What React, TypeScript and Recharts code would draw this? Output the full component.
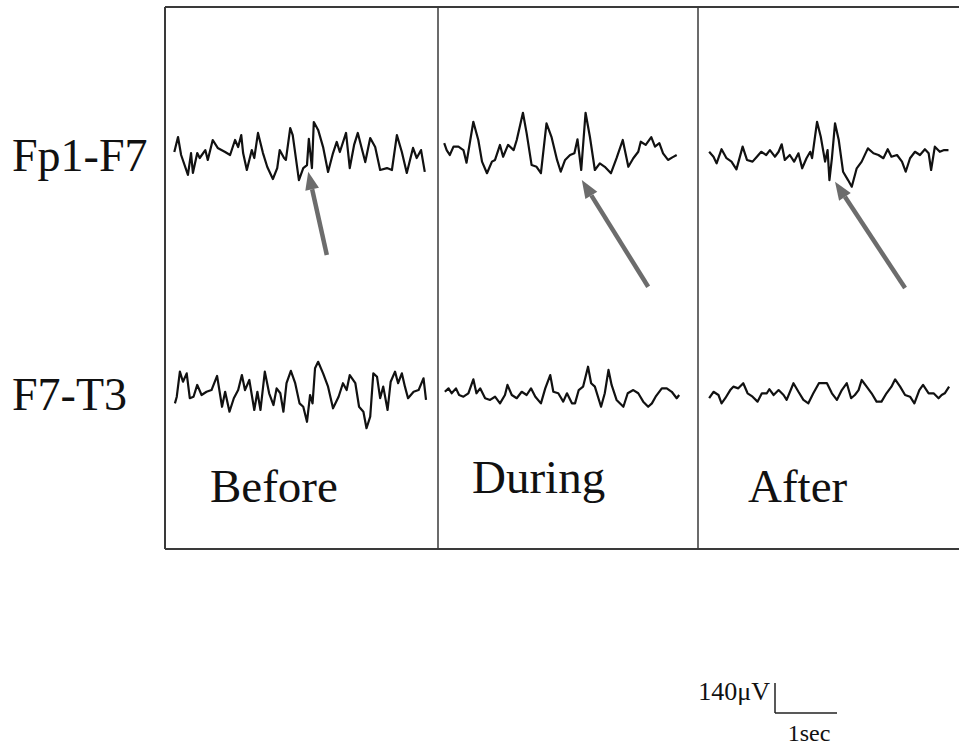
import React from "react";
import { ComposedChart, Line, XAxis, YAxis, ReferenceLine } from "recharts";

// --- EEG traces ---
// each point: [time within panel (s), amplitude (µV)]

const fp1Before: [number, number][] = [
  [0.15, 0], [0.21, 70], [0.26, -14], [0.37, -107], [0.42, -5], [0.45, -98], [0.52, -5], [0.56, -28],
  [0.65, 9], [0.69, -37], [0.77, 56], [0.85, 19], [0.97, 0], [1.05, -14], [1.13, 56], [1.18, 23],
  [1.23, 79], [1.26, -5], [1.32, -84], [1.40, 9], [1.44, -28], [1.50, 89], [1.58, -5], [1.65, -70],
  [1.74, -126], [1.81, -75], [1.85, 9], [1.92, -28], [1.95, -37], [2.02, 112], [2.06, 79], [2.16, -131],
  [2.23, -75], [2.29, -61], [2.32, 61], [2.37, -75], [2.40, 140], [2.47, 103], [2.55, 23], [2.63, -93],
  [2.71, -5], [2.77, 47], [2.82, 0], [2.92, 89], [2.98, -75], [3.05, 33], [3.11, 89], [3.18, 9],
  [3.23, -47], [3.31, 65], [3.39, 23], [3.47, -84], [3.58, -75], [3.66, -84], [3.74, 79], [3.82, 0],
  [3.90, -98], [4.00, 19], [4.06, -28], [4.13, 9], [4.19, -93],
];

const fp1During: [number, number][] = [
  [0.10, 41], [0.14, 9], [0.19, -14], [0.25, 25], [0.33, 25], [0.41, 9], [0.46, -50], [0.57, 141],
  [0.65, 56], [0.71, -45], [0.79, -99], [0.87, -45], [0.92, -37], [1.00, 33], [1.05, -22], [1.13, 33],
  [1.22, 9], [1.27, 56], [1.37, 183], [1.43, 87], [1.51, -61], [1.59, -69], [1.66, -99], [1.75, 134],
  [1.83, 71], [1.92, -37], [1.98, -92], [2.05, -37], [2.13, -14], [2.20, -6], [2.25, 59], [2.31, -84],
  [2.38, 183], [2.45, 71], [2.53, -84], [2.61, -53], [2.69, -69], [2.79, -99], [2.88, -29], [2.98, 56],
  [3.07, -69], [3.15, -29], [3.23, 1], [3.27, 48], [3.35, 33], [3.44, 69], [3.50, 25], [3.57, 41],
  [3.63, -6], [3.71, -37], [3.78, -25], [3.85, -14],
];

const fp1After: [number, number][] = [
  [0.18, 1], [0.25, -22], [0.30, -53], [0.38, 13], [0.46, -29], [0.54, -45], [0.62, -81], [0.72, 25],
  [0.79, -37], [0.88, -45], [0.95, -22], [1.02, 1], [1.10, -14], [1.16, 9], [1.24, -22], [1.30, 1],
  [1.35, 36], [1.40, -37], [1.48, -14], [1.55, -45], [1.62, -6], [1.68, -76], [1.75, -29], [1.81, 1],
  [1.84, -29], [1.92, 141], [1.98, 71], [2.05, -45], [2.09, 9], [2.12, -131], [2.16, -29], [2.21, 134],
  [2.27, 56], [2.34, -92], [2.42, -131], [2.48, -162], [2.56, -76], [2.64, -45], [2.74, 17], [2.83, -6],
  [2.91, -14], [2.99, -29], [3.06, 13], [3.12, -22], [3.21, -14], [3.29, -45], [3.35, -92], [3.42, -29],
  [3.50, 1], [3.58, -14], [3.66, 13], [3.72, -6], [3.76, -84], [3.82, 25], [3.90, 1], [3.97, 9], [4.04, 9],
];

const f7Before: [number, number][] = [
  [0.16, -53], [0.19, -22], [0.24, 95], [0.29, 48], [0.35, 87], [0.40, -29], [0.46, -22], [0.52, 33],
  [0.59, -14], [0.67, 1], [0.75, 9], [0.84, 75], [0.92, -69], [0.97, 1], [1.04, -92], [1.11, -29],
  [1.18, 9], [1.24, 79], [1.29, 9], [1.36, 56], [1.44, -84], [1.49, 1], [1.54, -84], [1.61, 95],
  [1.68, -6], [1.75, -61], [1.80, 17], [1.86, -6], [1.91, -92], [1.96, 41], [2.03, 99], [2.10, 41],
  [2.17, -53], [2.23, -69], [2.29, -139], [2.34, -14], [2.38, -53], [2.42, 111], [2.47, 141], [2.55, 87],
  [2.63, 25], [2.71, -76], [2.80, -22], [2.87, 41], [2.93, 9], [2.98, 79], [3.07, 41], [3.13, -69],
  [3.20, -92], [3.25, -169], [3.31, -115], [3.36, 87], [3.42, 71], [3.47, -29], [3.52, 25], [3.59, -84],
  [3.64, 48], [3.71, 95], [3.76, 41], [3.82, 87], [3.87, 25], [3.92, -29], [4.01, 1], [4.09, 9],
  [4.17, 64], [4.21, -37],
];

const f7During: [number, number][] = [
  [0.11, 1], [0.17, 17], [0.22, -6], [0.29, 17], [0.34, -14], [0.41, -22], [0.49, -6], [0.57, 59],
  [0.62, -6], [0.68, 17], [0.76, -29], [0.84, -37], [0.92, -22], [1.00, -53], [1.08, -14], [1.12, 33],
  [1.19, -14], [1.27, -29], [1.35, 1], [1.43, -14], [1.50, 17], [1.57, -22], [1.66, -53], [1.73, 17],
  [1.81, 79], [1.86, 1], [1.94, -6], [2.02, -45], [2.08, -6], [2.16, -53], [2.21, -53], [2.27, 9],
  [2.34, 25], [2.42, 118], [2.47, 41], [2.53, 25], [2.63, -69], [2.69, -6], [2.75, 103], [2.80, 33],
  [2.88, -37], [2.99, -69], [3.06, -6], [3.15, 9], [3.23, -6], [3.31, -45], [3.39, -69], [3.45, -53],
  [3.51, -22], [3.61, 17], [3.69, 17], [3.77, 1], [3.85, -29], [3.89, -14],
];

const f7After: [number, number][] = [
  [0.18, -29], [0.25, 1], [0.33, -14], [0.38, -53], [0.44, -29], [0.52, 9], [0.57, 25], [0.65, 17],
  [0.73, 41], [0.80, -6], [0.88, -22], [0.96, -45], [1.03, -6], [1.11, -6], [1.15, 13], [1.22, -14],
  [1.30, 9], [1.38, -14], [1.43, -37], [1.54, 41], [1.62, 1], [1.70, -37], [1.78, -53], [1.86, -6],
  [1.95, 41], [2.08, 41], [2.16, -6], [2.24, -37], [2.32, 9], [2.40, 41], [2.47, -29], [2.53, -14],
  [2.59, 9], [2.64, 56], [2.72, 25], [2.80, -6], [2.88, -45], [2.96, -45], [3.04, -6], [3.12, 25],
  [3.18, 59], [3.26, 25], [3.34, -14], [3.42, -22], [3.49, -53], [3.57, 9], [3.63, 33], [3.72, -6],
  [3.80, -6], [3.88, -29], [3.93, -14], [3.98, -6], [4.05, 25],
];

// arrows on Fp1-F7: [tail, tip], each [time within panel (s), µV]
const arrowMarks: [number, number][][] = [
  [[2.61, -481], [2.31, -92]],
  [[3.39, -629], [2.32, -131]],
  [[3.34, -635], [2.21, -139]],
];

const PANELS = ["Before", "During", "After"];
const CHANNELS = ["Fp1-F7", "F7-T3"];

// --- Layout ---
const W = 959;
const H = 748;
const PX_PER_SEC = 62;
const PX_PER_UV = 30 / 140;
const PANEL_LEFT = [165, 438, 698];
const ROW_MID = [152, 392];
const BOX_TOP = 7;
const BOX_BOTTOM = 549;
const SCALE_CORNER = { x: 775, y: 713 };

const tAt = (px: number) => px / PX_PER_SEC;
const vAt = (py: number) => (H - py) / PX_PER_UV;

const traces = [
  [fp1Before, f7Before],
  [fp1During, f7During],
  [fp1After, f7After],
];

// one table, one key per trace; gaps bridged with connectNulls
const seriesKeys: string[] = [];
const rows: Record<string, number>[] = [];
traces.forEach((pair, p) =>
  pair.forEach((pts, c) => {
    const key = `s${p}${c}`;
    seriesKeys.push(key);
    pts.forEach(([t, v]) => rows.push({ t: tAt(PANEL_LEFT[p]) + t, [key]: vAt(ROW_MID[c]) + v }));
  })
);
rows.sort((a, b) => a.t - b.t);

const Arrow = (props: any) => {
  const { x1, y1, x2, y2 } = props;
  const ang = Math.atan2(y2 - y1, x2 - x1);
  const len = 18;
  const half = 7;
  const bx = x2 - len * Math.cos(ang);
  const by = y2 - len * Math.sin(ang);
  const ox = -Math.sin(ang) * half;
  const oy = Math.cos(ang) * half;
  return (
    <g>
      <line x1={x1} y1={y1} x2={bx} y2={by} stroke="#6c6c6c" strokeWidth={4.5} />
      <polygon points={`${x2},${y2} ${bx + ox},${by + oy} ${bx - ox},${by - oy}`} fill="#6c6c6c" />
    </g>
  );
};

const serif = "'Liberation Serif', 'Times New Roman', serif";

export default function App() {
  const top = vAt(BOX_TOP);
  const bottom = vAt(BOX_BOTTOM);
  const sx = tAt(SCALE_CORNER.x);
  const sy = vAt(SCALE_CORNER.y);

  return (
    <div style={{ position: "absolute", left: 0, top: 0, width: W, height: H, background: "#fff" }}>
      <ComposedChart width={W} height={H} data={rows} margin={{ top: 0, right: 0, bottom: 0, left: 0 }}>
        <XAxis type="number" dataKey="t" domain={[0, W / PX_PER_SEC]} allowDataOverflow hide />
        <YAxis type="number" domain={[0, H / PX_PER_UV]} allowDataOverflow hide />

        {/* frame */}
        <ReferenceLine segment={[{ x: tAt(PANEL_LEFT[0]), y: top }, { x: tAt(W), y: top }]} stroke="#3a3a3a" strokeWidth={2} />
        <ReferenceLine segment={[{ x: tAt(PANEL_LEFT[0]), y: bottom }, { x: tAt(W), y: bottom }]} stroke="#3a3a3a" strokeWidth={2} />
        {PANEL_LEFT.map((px, i) => (
          <ReferenceLine key={px} segment={[{ x: tAt(px), y: top }, { x: tAt(px), y: bottom }]} stroke="#3a3a3a" strokeWidth={i === 0 ? 2 : 1.5} />
        ))}

        {seriesKeys.map((key) => (
          <Line
            key={key}
            dataKey={key}
            type="linear"
            stroke="#111"
            strokeWidth={2.2}
            strokeLinejoin="round"
            dot={false}
            activeDot={false}
            connectNulls
            isAnimationActive={false}
          />
        ))}

        {arrowMarks.map(([tail, tip], p) => (
          <ReferenceLine
            key={`arrow-${p}`}
            segment={[
              { x: tAt(PANEL_LEFT[p]) + tail[0], y: vAt(ROW_MID[0]) + tail[1] },
              { x: tAt(PANEL_LEFT[p]) + tip[0], y: vAt(ROW_MID[0]) + tip[1] },
            ]}
            shape={Arrow}
          />
        ))}

        {/* scale bar: 140 µV / 1 s */}
        <ReferenceLine segment={[{ x: sx, y: sy }, { x: sx, y: sy + 140 }]} stroke="#222" strokeWidth={1.5} />
        <ReferenceLine segment={[{ x: sx, y: sy }, { x: sx + 1, y: sy }]} stroke="#222" strokeWidth={1.5} />
      </ComposedChart>

      <svg width={W} height={H} style={{ position: "absolute", left: 0, top: 0, pointerEvents: "none" }}>
        <g fontFamily={serif} fill="#111">
          <text x={12} y={171} fontSize={46}>{CHANNELS[0]}</text>
          <text x={12} y={410} fontSize={46}>{CHANNELS[1]}</text>
          <text x={210} y={502} fontSize={47}>{PANELS[0]}</text>
          <text x={472} y={493} fontSize={47}>{PANELS[1]}</text>
          <text x={748} y={502} fontSize={47}>{PANELS[2]}</text>
          <text x={770} y={700} fontSize={26} textAnchor="end">140μV</text>
          <text x={809} y={741} fontSize={24} textAnchor="middle">1sec</text>
        </g>
      </svg>
    </div>
  );
}
